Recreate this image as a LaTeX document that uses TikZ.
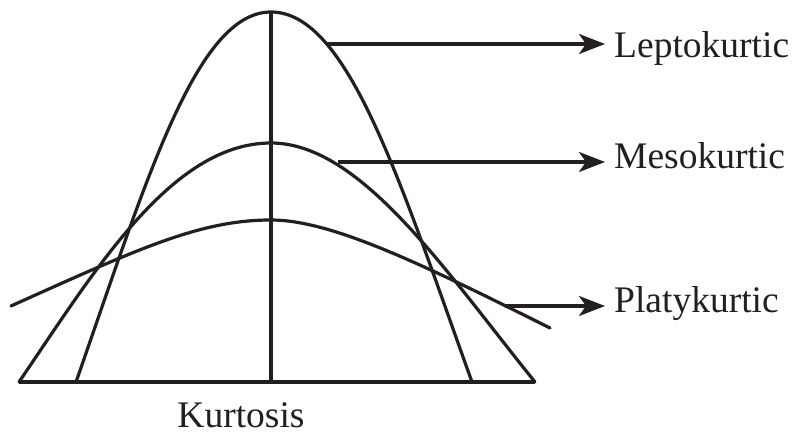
\documentclass[tikz,border=0pt]{standalone}
\usepackage{fontspec}
\setmainfont{Liberation Serif}
\usetikzlibrary{arrows.meta}
\definecolor{ink}{RGB}{35,31,32}
\begin{document}
\begin{tikzpicture}[x=1pt,y=-1pt,
  curve/.style={draw=ink, line width=3.2pt, line join=round, line cap=round},
  axis/.style={draw=ink, line width=3.2pt, line join=miter},
  pointer/.style={draw=ink, line width=3.2pt, shorten >=9pt, -{Stealth[length=26pt,width=20pt,inset=7pt]}},
  lbl/.style={anchor=base west, inner sep=0pt, font=\fontsize{37.5}{42}\selectfont, text=ink}]
\useasboundingbox (0,0) rectangle (801,435);
% axes
\draw[axis] (19,382) -- (535,382);
\draw[axis] (271,12) -- (271,382);
% leptokurtic
\draw[curve] (76,382) .. controls (146,182) and (196,12) .. (271,12)
                      .. controls (348,12) and (400,182) .. (472,382);
% mesokurtic
\draw[curve] (19,382) .. controls (94,272) and (171,143) .. (271,143)
                      .. controls (361,143) and (446,272) .. (535,382);
% platykurtic
\draw[curve] (11,306) .. controls (141,247.5) and (201,220) .. (271,220)
                      .. controls (331,220) and (420,263) .. (550,328);
% labels
\node[lbl] (lep) at (614,58) {Leptokurtic};
\node[lbl] (mes) at (614,169) {Mesokurtic};
\node[lbl] (pla) at (614,313) {Platykurtic};
\node[lbl, anchor=base] (kur) at (241,428) {Kurtosis};
% pointer origins on the curves
\coordinate (plep) at (327,44);
\coordinate (pmes) at (338,162);
\coordinate (ppla) at (505,306);
\draw[pointer] (plep) -- (plep -| lep.west);
\draw[pointer] (pmes) -- (pmes -| mes.west);
\draw[pointer] (ppla) -- (ppla -| pla.west);
\end{tikzpicture}
\end{document}
